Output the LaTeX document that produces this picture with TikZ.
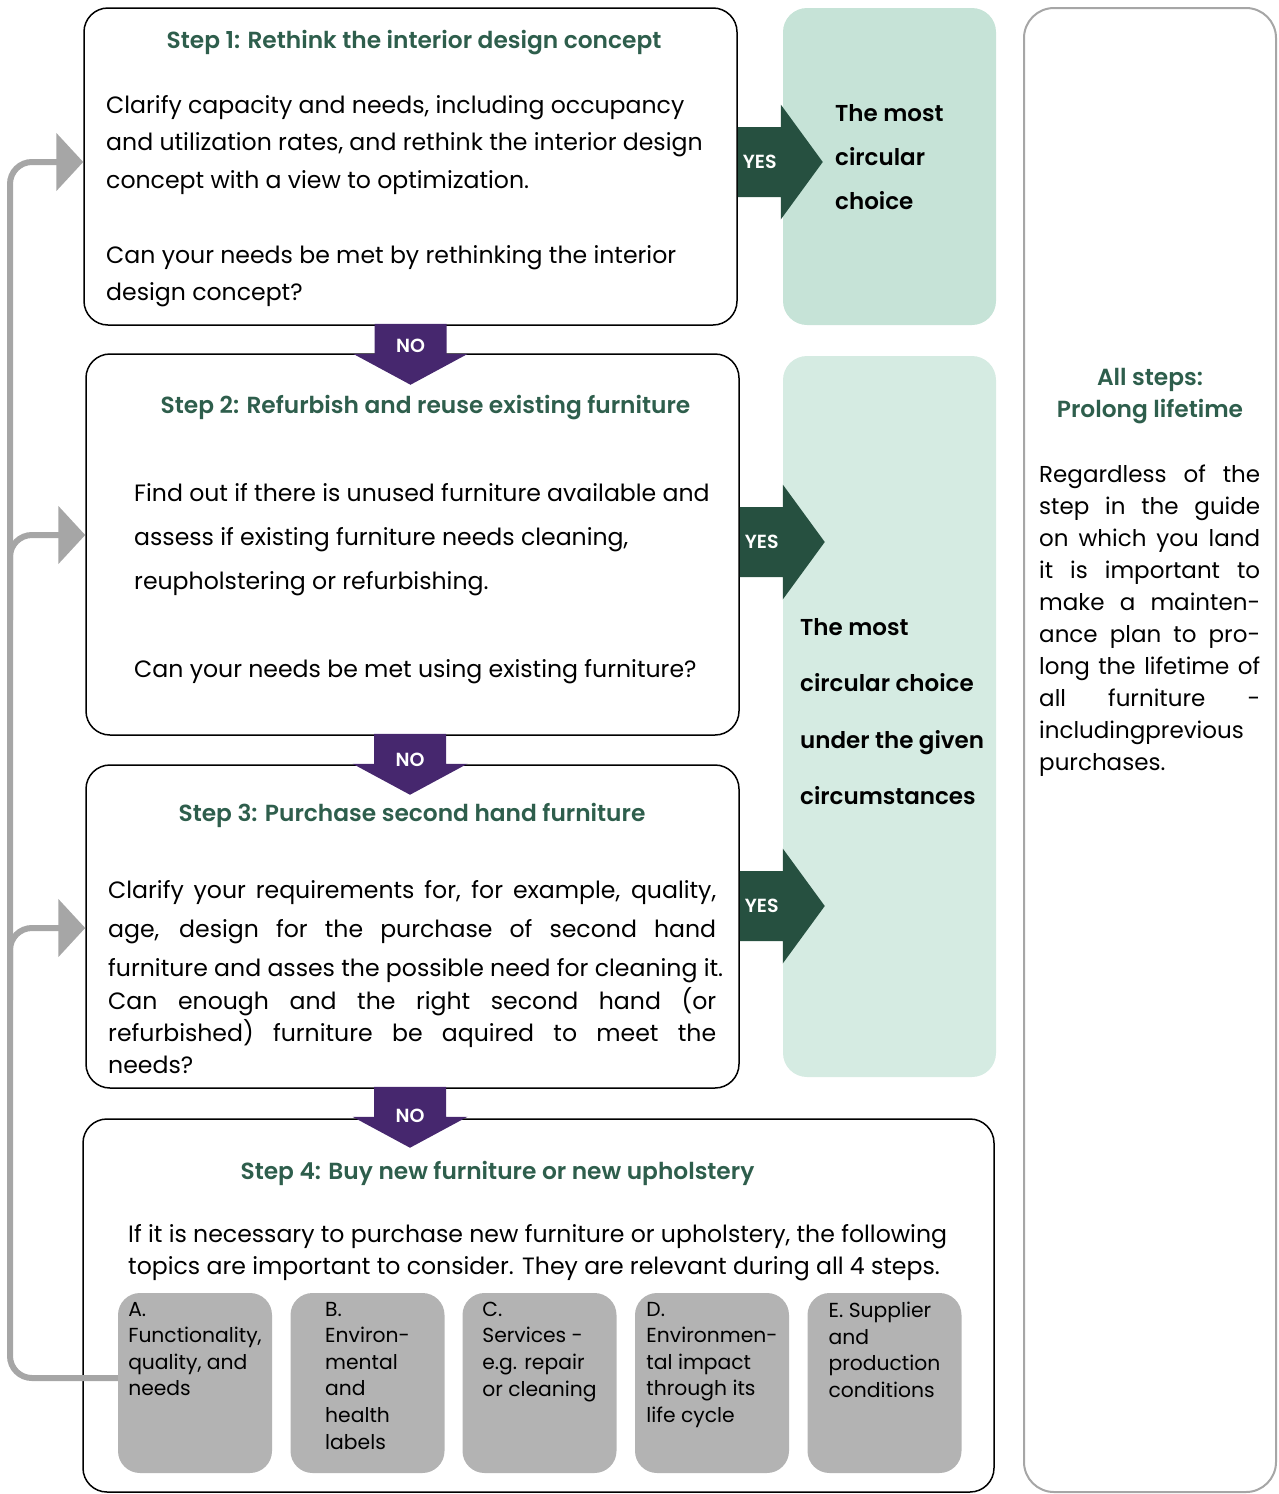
\documentclass[tikz,border=0pt]{standalone}
\usepackage{fontspec}
\setmainfont{Poppins}
\newfontfamily\semifont{Poppins SemiBold}
\newfontfamily\mediumfont{Poppins Medium}
\usepackage{xcolor}
\usepackage{tikz}
\usetikzlibrary{arrows.meta}

\definecolor{headgreen}{HTML}{2E5E4C}
\definecolor{yesgreen}{HTML}{265040}
\definecolor{nopurple}{HTML}{46276E}
\definecolor{mint}{HTML}{C6E3D7}
\definecolor{mintlight}{HTML}{D5EBE2}
\definecolor{loopgray}{HTML}{A6A6A6}
\definecolor{topicgray}{HTML}{B3B3B3}

% one line stretched to a given width
\newcommand{\spread}[2]{\makebox[#1][s]{#2}}

\begin{document}
\begin{tikzpicture}[x=1pt,y=-1pt,
    stepbox/.style={draw=black,line width=1.5pt,rounded corners=24pt,minimum width=653pt,inner sep=0pt},
    choicebox/.style={rounded corners=24pt,minimum width=213pt,inner sep=0pt},
    topic/.style={fill=topicgray,rounded corners=22pt,minimum width=154pt,minimum height=180pt,inner sep=0pt},
    topictext/.style={align=left,anchor=north,font=\fontsize{20.3}{26.6}\selectfont,inner sep=0pt},
    steptitle/.style={text=headgreen,font=\semifont\fontsize{23.3}{32}\selectfont,inner sep=0pt},
    bodytext/.style={anchor=north west,align=left,inner sep=0pt},
    choicetext/.style={anchor=north west,align=left,inner sep=0pt},
    yesarrow/.style={fill=yesgreen},
    noarrow/.style={fill=nopurple},
    arrowtext/.style={text=white,font=\semifont\fontsize{19}{22}\selectfont,inner sep=0pt},
    looparrow/.style={draw=loopgray,line width=6pt,rounded corners=22pt,-{Triangle[length=27pt,width=57pt]}},
]
\useasboundingbox (0,0) rectangle (1278,1494);

% boxes
\node[choicebox,fill=mint,minimum height=317pt] (choice1) at (889.5,166.5) {};
\node[choicebox,fill=mintlight,minimum height=721pt] (choice2) at (889.5,716.5) {};
\node[draw=loopgray,line width=2pt,rounded corners=30pt,minimum width=252pt,minimum height=1484pt] (allsteps) at (1150,750) {};

\node[stepbox,minimum height=317pt] (step1) at (410.5,166.5) {};
\node[stepbox,minimum height=381pt] (step2) at (412.5,544.5) {};
\node[stepbox,minimum height=323pt] (step3) at (412.5,926.5) {};
\node[stepbox,minimum width=911pt,minimum height=373pt] (step4) at (538.5,1305.5) {};

\node[topic] (topicA) at (195,1383) {};
\node[topic] (topicB) at (367.5,1383) {};
\node[topic] (topicC) at (539.5,1383) {};
\node[topic] (topicD) at (712,1383) {};
\node[topic] (topicE) at (884.5,1383) {};

% step 1
\node[steptitle] (title1) at (414,43) {Step 1: Rethink the interior design concept};
\node[bodytext,font=\fontsize{23.6}{37.5}\selectfont] (text1) at (106,95)
  {Clarify capacity and needs, including occupancy\\
   and utilization rates, and rethink the interior design\\
   concept with a view to optimization.\\[37.5pt]
   Can your needs be met by rethinking the interior\\
   design concept?};

% step 2
\node[steptitle] (title2) at (425.5,408) {Step 2: Refurbish and reuse existing furniture};
\node[bodytext,font=\fontsize{23.6}{44}\selectfont] (text2) at (134,483)
  {Find out if there is unused furniture available and\\
   assess if existing furniture needs cleaning,\\
   reupholstering or refurbishing.\\[44pt]
   Can your needs be met using existing furniture?};

% step 3
\node[steptitle] (title3) at (412,815) {Step 3: Purchase second hand furniture};
\node[bodytext,font=\fontsize{23.6}{39}\selectfont] (text3a) at (108,880)
  {\spread{608pt}{Clarify your requirements for, for example, quality,}\\
   \spread{608pt}{age, design for the purchase of second hand}\\
   furniture and asses the possible need for cleaning it.};
\node[bodytext,font=\fontsize{23.6}{32}\selectfont] (text3b) at (108,987)
  {\spread{608pt}{Can enough and the right second hand (or}\\
   \spread{608pt}{refurbished) furniture be aquired to meet the}\\
   needs?};

% step 4
\node[steptitle] (title4) at (497.5,1173) {Step 4: Buy new furniture or new upholstery};
\node[bodytext,font=\fontsize{23.6}{32}\selectfont] (text4) at (128,1224)
  {If it is necessary to purchase new furniture or upholstery, the following\\
   topics are important to consider. They are relevant during all 4 steps.};

\node[topictext] (textA) at ([yshift=-9]topicA.north) {A.\\Functionality,\\quality, and\\needs};
\node[topictext] (textB) at ([yshift=-9]topicB.north) {B.\\Environ-\\mental\\and\\health\\labels};
\node[topictext] (textC) at ([yshift=-9]topicC.north) {C.\\Services -\\e.g. repair\\or cleaning};
\node[topictext] (textD) at ([yshift=-9]topicD.north) {D.\\Environmen-\\tal impact\\through its\\life cycle};
\node[topictext] (textE) at ([yshift=-9]topicE.north) {E. Supplier\\and\\production\\conditions};

% circular choices
\node[choicetext,font=\semifont\fontsize{23}{44}\selectfont] (best1) at (835,104)
  {The most\\circular\\choice};
\node[choicetext,font=\semifont\fontsize{23}{56.5}\selectfont] (best2) at (800,618)
  {The most\\circular choice\\under the given\\circumstances};

% all steps column
\node[steptitle,align=center] (alltitle) at (1150,396.5) {All steps:\\Prolong lifetime};
\node[bodytext,font=\fontsize{23}{32}\selectfont] (alltext) at (1039,465)
  {\spread{221pt}{Regardless of the}\\
   \spread{221pt}{step in the guide}\\
   \spread{221pt}{on which you land}\\
   \spread{221pt}{it is important to}\\
   \spread{221pt}{make a mainten-}\\
   \spread{221pt}{ance plan to pro-}\\
   \spread{221pt}{long the lifetime of}\\
   \spread{221pt}{all furniture -}\\
   \spread{221pt}{includingprevious}\\
   purchases.};

% yes arrows
\coordinate (yes1) at ([yshift=4.5]step1.east);
\coordinate (yes2) at ([yshift=2.5]step2.east);
\coordinate (yes3) at ([yshift=20.5]step3.east);
\foreach \a in {yes1,yes2,yes3}{
  \fill[yesarrow] (\a) ++(0,-35) -- ++(43,0) -- ++(0,-22.5) -- ++(42,57.5)
    -- ++(-42,57.5) -- ++(0,-22.5) -- ++(-43,0) -- cycle;
  \node[arrowtext] at ([xshift=22]\a) {YES};
}

% no arrows
\coordinate (no1) at (step1.south);
\coordinate (no2) at ([xshift=-2.5]step2.south);
\coordinate (no3) at ([xshift=-2.5]step3.south);
\foreach \a/\d in {no1/20,no2/24,no3/27}{
  \fill[noarrow] (\a) ++(-36,-2) -- ++(0,30) -- ++(-21.5,0) -- ++(57.5,31)
    -- ++(57.5,-31) -- ++(-21.5,0) -- ++(0,-30) -- cycle;
  \node[arrowtext] at ([yshift=-\d]\a) {NO};
}

% loop back from topic A
\coordinate (spine) at (10,0);
\draw[looparrow] ([yshift=5]topicA.west) -| (spine |- 0,700) |- ([yshift=4.5]step1.west);
\draw[looparrow] (spine |- 0,620) |- ([yshift=9.5]step2.west);
\draw[looparrow] (spine |- 0,1000) |- ([yshift=-1.5]step3.west);
\end{tikzpicture}
\end{document}
